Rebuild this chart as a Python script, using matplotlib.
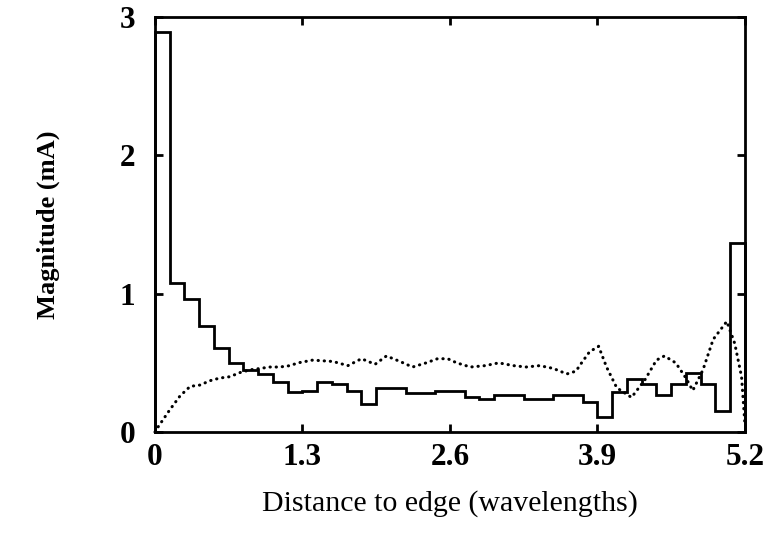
import matplotlib
matplotlib.use("Agg")
import matplotlib.pyplot as plt
import numpy as np

# step (segment) magnitudes, 40 segments of 0.13 wavelength each
seg_width = 0.13
seg_mag = [2.89, 1.08, 0.96, 0.77, 0.61, 0.50, 0.45, 0.42, 0.36, 0.29,
           0.30, 0.36, 0.35, 0.30, 0.20, 0.32, 0.32, 0.28, 0.28, 0.30,
           0.30, 0.25, 0.24, 0.27, 0.27, 0.24, 0.24, 0.27, 0.27, 0.22,
           0.11, 0.29, 0.38, 0.35, 0.27, 0.35, 0.43, 0.35, 0.15, 1.37]

# dotted curve
dot_x = [0.0, 0.03, 0.13, 0.22, 0.31, 0.40, 0.48, 0.57, 0.66, 0.75, 0.84,
         0.93, 1.01, 1.10, 1.19, 1.26, 1.39, 1.57, 1.70, 1.82, 1.94, 2.04,
         2.16, 2.27, 2.39, 2.49, 2.58, 2.66, 2.78, 2.91, 3.03, 3.16, 3.27,
         3.39, 3.51, 3.63, 3.71, 3.76, 3.83, 3.91, 3.98, 4.07, 4.20, 4.32,
         4.42, 4.49, 4.59, 4.68, 4.74, 4.83, 4.92, 5.04, 5.11, 5.17, 5.20]
dot_y = [0.0, 0.04, 0.16, 0.26, 0.33, 0.34, 0.37, 0.39, 0.40, 0.43, 0.45,
         0.46, 0.47, 0.47, 0.48, 0.50, 0.52, 0.51, 0.48, 0.53, 0.49, 0.55,
         0.51, 0.47, 0.50, 0.53, 0.53, 0.50, 0.47, 0.48, 0.50, 0.48, 0.47,
         0.48, 0.46, 0.42, 0.44, 0.50, 0.58, 0.62, 0.47, 0.32, 0.25, 0.38,
         0.52, 0.55, 0.50, 0.39, 0.30, 0.45, 0.67, 0.80, 0.64, 0.40, 0.05]

xticks = [0, 1.3, 2.6, 3.9, 5.2]
xtick_labels = ["0", "1.3", "2.6", "3.9", "5.2"]
yticks = [0, 1, 2, 3]

plt.rcParams["font.family"] = ["Liberation Serif", "DejaVu Serif"]

fig = plt.figure(figsize=(7.68, 5.37), dpi=100)
ax = fig.add_axes([0.2018, 0.1955, 0.7682, 0.7725])

edges = np.arange(len(seg_mag) + 1) * seg_width
ax.stairs(seg_mag, edges, baseline=0, color="black", linewidth=2.0, clip_on=False)
ax.plot(dot_x, dot_y, color="black", linestyle=(0, (0.1, 1.9)), linewidth=2.2,
        dash_capstyle="round", clip_on=False)

ax.set_xlim(0, 5.2)
ax.set_ylim(0, 3)
ax.set_xticks(xticks)
ax.set_xticklabels(xtick_labels)
ax.set_yticks(yticks)
for s in ax.spines.values():
    s.set_linewidth(2.0)
ax.tick_params(direction="in", length=6, width=2, top=True, right=True,
               labelsize=22.5)
ax.tick_params(axis="x", pad=8)
ax.tick_params(axis="y", pad=14)
for lab in ax.get_xticklabels() + ax.get_yticklabels():
    lab.set_fontweight("bold")

ax.set_xlabel("Distance to edge (wavelengths)", fontsize=21.5, labelpad=13)
ax.set_ylabel("Magnitude (mA)", fontsize=19, fontweight="bold", labelpad=43)

fig.savefig("out.png", dpi=100)
